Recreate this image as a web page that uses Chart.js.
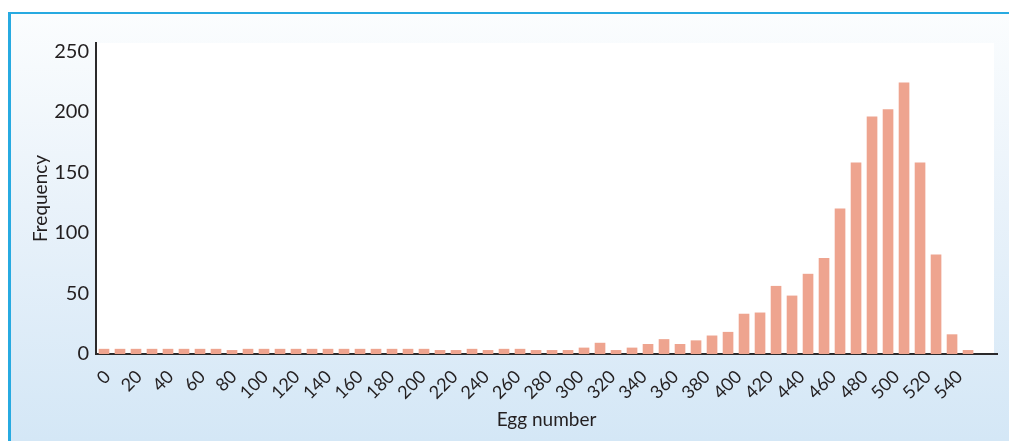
<!DOCTYPE html>
<html>
<head>
<meta charset="utf-8">
<script src="https://cdn.jsdelivr.net/npm/chart.js@4/dist/chart.umd.min.js"></script>
<style>
  html, body { margin: 0; padding: 0; background: #ffffff; width: 1009px; height: 441px; overflow: hidden; }
  #panel {
    position: absolute; left: 8px; top: 12px; width: 1001px; height: 429px; box-sizing: border-box;
    border-top: 2px solid #27aae1; border-left: 3px solid #27aae1;
    background: linear-gradient(to bottom, #fbfdfe 0%, #e9f2fa 45%, #d4e7f6 100%);
  }
  #c { position: absolute; left: 0; top: 0; }
</style>
</head>
<body>
<div id="panel"></div>
<canvas id="c" width="1009" height="441"></canvas>
<script>
// Bin starts (egg number, bins of width 10)
const binStarts = [0,10,20,30,40,50,60,70,80,90,
                   100,110,120,130,140,150,160,170,180,190,
                   200,210,220,230,240,250,260,270,280,290,
                   300,310,320,330,340,350,360,370,380,390,
                   400,410,420,430,440,450,460,470,480,490,
                   500,510,520,530,540];
// Frequency per bin
const counts = [4,4,4,4,4,4,4,4,3,4,
                4,4,4,4,4,4,4,4,4,4,
                4,3,3,4,3,4,4,3,3,3,
                5,9,3,5,8,12,8,11,15,18,
                33,34,56,48,66,79,120,158,196,202,
                224,158,82,16,3];
// Tick labels
const xTickValues = [0,20,40,60,80,100,120,140,160,180,200,220,240,260,280,300,320,340,360,380,400,420,440,460,480,500,520,540];
const yTickValues = [0,50,100,150,200,250];

const TEXT = '#231f20';
const AXIS = '#2b2a2b';

const plotBg = {
  id: 'plotBg',
  beforeDraw(chart) {
    const { ctx, chartArea: a } = chart;
    ctx.save();
    ctx.fillStyle = '#ffffff';
    ctx.fillRect(a.left, a.top, a.right - a.left - 3, a.bottom - a.top);
    ctx.restore();
  }
};

function draw() {
  new Chart(document.getElementById('c'), {
    type: 'bar',
    data: {
      datasets: [{
        data: binStarts.map((b, i) => ({ x: b, y: counts[i] })),
        backgroundColor: '#eea48f',
        borderWidth: 0,
        barThickness: 10
      }]
    },
    options: {
      responsive: false,
      animation: false,
      layout: { padding: { left: 0, top: 43, right: 12, bottom: 0 } },
      plugins: { legend: { display: false }, tooltip: { enabled: false } },
      scales: {
        x: {
          type: 'linear', position: 'bottom', weight: 0, offset: false, bounds: 'data',
          min: -5, max: 558.1,
          grid: { display: false, drawTicks: false },
          border: { display: false },
          ticks: { display: false },
          afterFit(s) { s.height = 0; }
        },
        x2: {
          type: 'linear', axis: 'x', position: 'bottom', weight: 1, offset: false, bounds: 'data',
          min: -7.29, max: 563.7,
          grid: { display: false, drawTicks: false },
          border: { display: true, color: AXIS, width: 2 },
          afterBuildTicks(s) { s.ticks = xTickValues.map(v => ({ value: v })); },
          ticks: {
            autoSkip: false, minRotation: 45, maxRotation: 45, padding: 12,
            color: TEXT, font: { family: 'Lato', size: 18 }
          },
          title: {
            display: true, text: 'Egg number', color: TEXT,
            font: { family: 'Lato', size: 19 }, padding: { top: 0, bottom: 10 }
          },
          afterFit(s) { s.height = 87; }
        },
        y: {
          type: 'linear', min: 0, max: 257,
          grid: { display: false, drawTicks: false },
          border: { display: true, color: AXIS, width: 2 },
          afterBuildTicks(s) { s.ticks = yTickValues.map(v => ({ value: v })); },
          ticks: { padding: 7, color: TEXT, font: { family: 'Lato', size: 20 } },
          title: {
            display: true, text: 'Frequency', color: TEXT,
            font: { family: 'Lato', size: 19 }, padding: { top: 29, bottom: 0 }
          },
          afterFit(s) { s.width = 96; }
        }
      }
    },
    plugins: [plotBg]
  });
}

Promise.all([
  document.fonts.load('18px Lato'),
  document.fonts.load('20px Lato')
]).then(draw, draw);
</script>
</body>
</html>
